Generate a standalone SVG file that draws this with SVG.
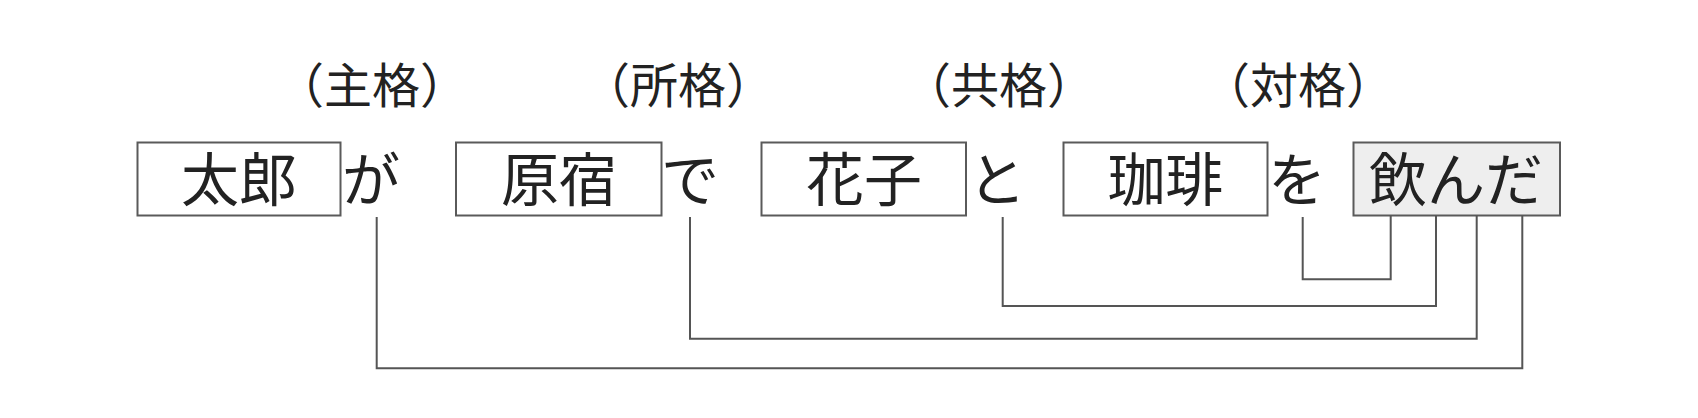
<svg xmlns="http://www.w3.org/2000/svg" width="1698" height="418" viewBox="0 0 1698 418">
<style>
.box{fill:#ffffff;stroke:#5a5a5a;stroke-width:2}
.pred{fill:#eeeeee;stroke:#5a5a5a;stroke-width:2}
.w{font-family:"Noto Sans CJK JP","Noto Sans CJK SC",sans-serif;font-size:58px;font-weight:400;fill:#222222;text-anchor:middle}
.lab{font-family:"Noto Sans CJK JP","Noto Sans CJK SC",sans-serif;font-size:48px;font-weight:400;fill:#222222;text-anchor:middle}
.c{fill:none;stroke:#555555;stroke-width:2}
</style>
<rect x="0" y="0" width="1698" height="418" fill="#ffffff"/>
<g id="labels">
<text class="lab" x="372" y="103">（主格）</text>
<text class="lab" x="678" y="103">（所格）</text>
<text class="lab" x="999" y="103">（共格）</text>
<text class="lab" x="1298" y="103">（対格）</text>
</g>
<g id="taro">
<rect class="box" x="137.5" y="142.5" width="203" height="73"/>
<text class="w" x="239" y="201">太郎</text>
</g>
<g id="ga"><text class="w" x="371" y="201">が</text></g>
<g id="harajuku">
<rect class="box" x="456" y="142.5" width="205.5" height="73"/>
<text class="w" x="559" y="201">原宿</text>
</g>
<g id="de"><text class="w" x="690" y="201">で</text></g>
<g id="hanako">
<rect class="box" x="761.5" y="142.5" width="204.5" height="73"/>
<text class="w" x="864" y="201">花子</text>
</g>
<g id="to"><text class="w" x="997" y="201">と</text></g>
<g id="coffee">
<rect class="box" x="1063.5" y="142.5" width="204" height="73"/>
<text class="w" x="1165.5" y="201">珈琲</text>
</g>
<g id="wo"><text class="w" x="1297" y="201">を</text></g>
<g id="nonda">
<rect class="pred" x="1353.5" y="142.5" width="206.5" height="73"/>
<text class="w" x="1456" y="201">飲んだ</text>
</g>
<g id="connectors">
<path class="c" d="M1302.7,217 V279.3 H1390.7 V215.5"/>
<path class="c" d="M1002.7,217 V306 H1436 V215.5"/>
<path class="c" d="M690,217 V338.7 H1476.7 V215.5"/>
<path class="c" d="M376.7,217 V368.3 H1522.3 V215.5"/>
</g>
</svg>
